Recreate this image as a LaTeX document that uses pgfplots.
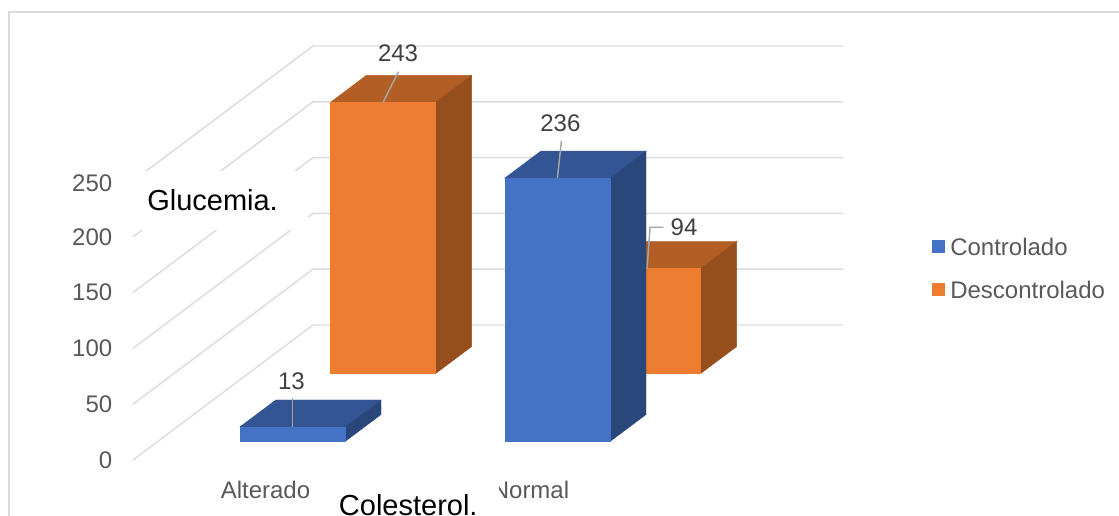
\documentclass[border=0pt]{standalone}
\usepackage{fontspec}
\setmainfont{Liberation Sans}
\usepackage{pgfplots}
\pgfplotsset{compat=1.18}
\definecolor{blueF}{HTML}{4472C4}
\definecolor{blueT}{HTML}{335593}
\definecolor{blueS}{HTML}{2A477B}
\definecolor{orangeF}{HTML}{ED7D31}
\definecolor{orangeT}{HTML}{B25E25}
\definecolor{orangeS}{HTML}{964F1C}
\definecolor{gridc}{HTML}{DCDCDC}
\definecolor{tickc}{HTML}{595959}
\definecolor{valc}{HTML}{404040}
\definecolor{leadc}{HTML}{A6A6A6}
\newcommand{\sz}{\fontsize{18pt}{20pt}\selectfont}
\newcommand{\szb}{\fontsize{21.75pt}{24pt}\selectfont}
% one oblique column: x0, x1, y0, y1, value, colour prefix
\newcommand{\column}[6]{%
  \addplot3[fill=#6T,draw=#6T,line width=.3pt] coordinates {(#1,#3,#5) (#2,#3,#5) (#2,#4,#5) (#1,#4,#5)} --cycle;
  \addplot3[fill=#6S,draw=#6S,line width=.3pt] coordinates {(#2,#3,0) (#2,#4,0) (#2,#4,#5) (#2,#3,#5)} --cycle;
  \addplot3[fill=#6F,draw=#6F,line width=.3pt] coordinates {(#1,#3,0) (#2,#3,0) (#2,#3,#5) (#1,#3,#5)} --cycle;
}
\newcommand{\wall}[1]{%
  \addplot3[gridc,line width=1.1pt] coordinates {(0,0,#1) (0,1,#1) (2,1,#1)};
}
\begin{document}
\begin{tikzpicture}[x=1pt,y=1pt]
\useasboundingbox (0,0) rectangle (839.25,387);
\clip (0,0) rectangle (839.25,387);
\fill[white] (0,0) rectangle (839.25,387);
\begin{axis}[
  at={(99.75pt,42pt)}, anchor=origin,
  disabledatascaling, hide axis, clip=false,
  x={(198.75pt,0pt)}, y={(135pt,101.25pt)}, z={(0pt,0.837pt)},
  xmin=0, xmax=2, ymin=0, ymax=1, zmin=0, zmax=250,
  no markers,
]
\wall{0}\wall{50}\wall{100}\wall{150}\wall{200}\wall{250}
% Descontrolado, rear row
\column{0.31}{0.707}{0.6407}{0.8407}{243}{orange}
\column{1.31}{1.707}{0.6407}{0.8407}{94}{orange}
% Controlado, front row
\column{0.31}{0.707}{0.1370}{0.3370}{13}{blue}
\column{1.31}{1.707}{0.1370}{0.3370}{236}{blue}
% value labels with their leader lines
\draw[leadc,line width=1.1pt] (axis cs:0.5085,0.6407,243) -- ++(11.5pt,23pt);
\node[text=valc,font=\sz] at (axis cs:0.5085,0.6407,243) [xshift=11.25pt,yshift=36.75pt] {243};
\draw[leadc,line width=1.1pt] (axis cs:1.5085,0.1370,236) -- ++(3pt,28pt);
\node[text=valc,font=\sz] at (axis cs:1.5085,0.1370,236) [xshift=2.25pt,yshift=41.25pt] {236};
\draw[leadc,line width=1.1pt] (axis cs:0.5085,0.1370,13) -- ++(0pt,22pt);
\node[text=valc,font=\sz] at (axis cs:0.5085,0.1370,13) [xshift=-.75pt,yshift=34.5pt] {13};
\draw[leadc,line width=1.1pt] ([xshift=-.75pt]axis cs:1.5085,0.6407,94) -- ++(2.25pt,31pt) -- ++(10pt,0pt);
\node[text=valc,font=\sz] at (axis cs:1.5085,0.6407,94) [xshift=27pt,yshift=31pt] {94};
% value axis labels
\node[text=tickc,font=\sz,anchor=east] at (axis cs:0,0,0) [xshift=-12pt] {0};
\node[text=tickc,font=\sz,anchor=east] at (axis cs:0,0,50) [xshift=-12pt] {50};
\node[text=tickc,font=\sz,anchor=east] at (axis cs:0,0,100) [xshift=-12pt] {100};
\node[text=tickc,font=\sz,anchor=east] at (axis cs:0,0,150) [xshift=-12pt] {150};
\node[text=tickc,font=\sz,anchor=east] at (axis cs:0,0,200) [xshift=-12pt] {200};
\node[text=tickc,font=\sz,anchor=east] at (axis cs:0,0,250) [xshift=-12pt,yshift=-2pt] {250};
% category labels
\node[text=tickc,font=\sz] at (axis cs:0.5,0,0) [yshift=-22.5pt] {Alterado};
\node[text=tickc,font=\sz] at (axis cs:1.5,0,0) [yshift=-22.5pt] {Normal};
\end{axis}
% chart frame, open to the right and bottom edges
\draw[gridc,line width=1.4pt] (6.5,-5) -- (6.5,378) -- (845,378);
% legend
\fill[blueF] (699,197.25) rectangle (709,207);
\node[text=tickc,font=\sz,anchor=west,inner sep=0pt] at (712.5,202) {Controlado};
\fill[orangeF] (699,165) rectangle (709,174.75);
\node[text=tickc,font=\sz,anchor=west,inner sep=0pt] at (712.5,169.5) {Descontrolado};
% overlaid text boxes
\fill[white] (96,214.5) rectangle (231,259);
\node[font=\szb,text=black,anchor=base west,inner sep=0pt] at (110.25,228.75) {Glucemia.};
\fill[white] (240,-5) rectangle (374,28);
\node[font=\szb,text=black,anchor=base west,inner sep=0pt] at (254,0.4) {Colesterol.};
\end{tikzpicture}
\end{document}
